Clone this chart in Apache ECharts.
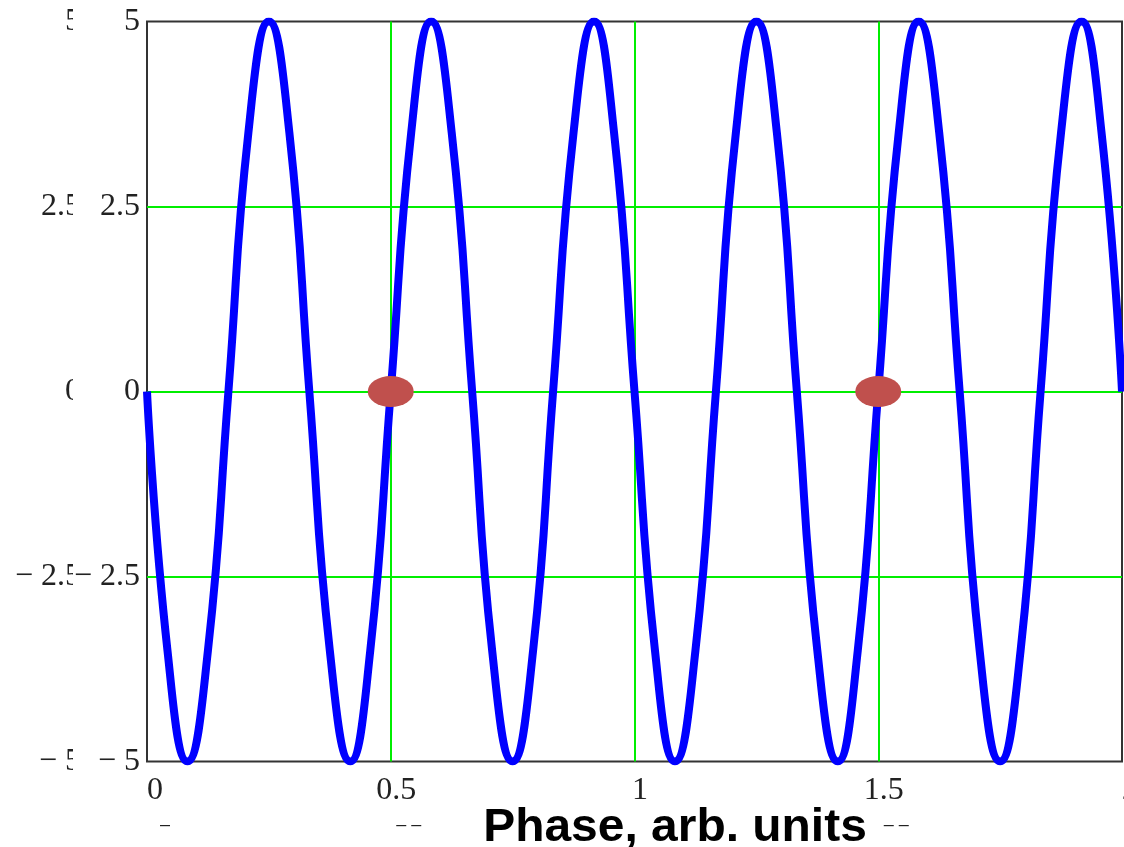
<!DOCTYPE html>
<html>
<head>
<meta charset="utf-8">
<script src="https://cdn.jsdelivr.net/npm/echarts@6/dist/echarts.min.js"></script>
<style>
html,body{margin:0;padding:0;background:#fff;}
#chart{width:1124px;height:847px;}
</style>
</head>
<body>
<div id="chart"></div>
<script>
// Phase samples (arb. units) and signal values
const phaseX = [0, 0.042, 0.083, 0.125, 0.167, 0.208, 0.25, 0.292, 0.333, 0.375, 0.417, 0.458,
  0.5, 0.542, 0.583, 0.625, 0.667, 0.708, 0.75, 0.792, 0.833, 0.875, 0.917, 0.958,
  1.0, 1.042, 1.083, 1.125, 1.167, 1.208, 1.25, 1.292, 1.333, 1.375, 1.417, 1.458,
  1.5, 1.542, 1.583, 1.625, 1.667, 1.708, 1.75, 1.792, 1.833, 1.875, 1.917, 1.958, 2.0];
const signalY = [0, -3.5, -5, -3.5, 0, 3.5, 5, 3.5, 0, -3.5, -5, -3.5,
  0, 3.5, 5, 3.5, 0, -3.5, -5, -3.5, 0, 3.5, 5, 3.5,
  0, -3.5, -5, -3.5, 0, 3.5, 5, 3.5, 0, -3.5, -5, -3.5,
  0, 3.5, 5, 3.5, 0, -3.5, -5, -3.5, 0, 3.5, 5, 3.5, 0];
// Highlighted points
const markX = [0.5, 1.5];
const markY = [0, 0];
// Axis ticks
const xTicks = [0, 0.5, 1, 1.5, 2];
const yTicks = [-5, -2.5, 0, 2.5, 5];
const xTitle = 'Phase, arb. units';

const fmtY = v => (v < 0 ? '\u2212 ' + String(-v) : String(v));
const dashLabels = {0: '\u2013', 0.5: '\u2013 \u2013', 1.5: '\u2013 \u2013'};

const chart = echarts.init(document.getElementById('chart'));
const serif = '"Liberation Serif", "Times New Roman", serif';

chart.setOption({
  animation: false,
  backgroundColor: '#fff',
  grid: {left: 147, right: 2, top: 21.5, bottom: 85.5, show: true, borderColor: '#333', borderWidth: 2,
    backgroundColor: 'transparent', containLabel: false, outerBoundsMode: 'none'},
  xAxis: [{
    type: 'value', min: xTicks[0], max: xTicks[xTicks.length - 1], interval: 0.5,
    axisLine: {show: false}, axisTick: {show: false},
    splitLine: {show: true, showMinLine: false, showMaxLine: false, lineStyle: {color: '#00ee00', width: 2}},
    axisLabel: {
      margin: 13, fontFamily: serif, fontSize: 32, color: '#222',
      formatter: v => (v === 0 || v === 2) ? '{l|' + v + '}' : '{c|' + v + '}',
      rich: {l: {fontFamily: serif, fontSize: 32, color: '#222'}, c: {fontFamily: serif, fontSize: 32, color: '#222', padding: [0, 0, 0, 11]}},
      alignMinLabel: 'left', alignMaxLabel: 'left', showMinLabel: true, showMaxLabel: true
    },
    z: 3
  }, {
    type: 'value', min: xTicks[0], max: xTicks[xTicks.length - 1], interval: 0.5,
    position: 'bottom', offset: 47,
    axisLine: {show: false}, axisTick: {show: false}, splitLine: {show: false},
    axisLabel: {
      fontSize: 18, color: '#222',
      formatter: v => dashLabels[v] || '',
      padding: [0, 0, 0, 36]
    }
  }],
  yAxis: [{
    type: 'value', min: -5, max: 5, interval: 2.5,
    axisLine: {show: false}, axisTick: {show: false},
    splitLine: {show: true, showMinLine: false, showMaxLine: false, lineStyle: {color: '#00ee00', width: 2}},
    axisLabel: {margin: 7, fontFamily: serif, fontSize: 32, color: '#222', formatter: fmtY, padding: [8, 0, 0, 0]},
    z: 3
  }, {
    type: 'value', min: -5, max: 5, interval: 2.5, position: 'left', offset: 59,
    axisLine: {show: false}, axisTick: {show: false}, splitLine: {show: false},
    axisLabel: {margin: 7, fontFamily: serif, fontSize: 32, color: '#222', formatter: fmtY, padding: [8, 0, 0, 0]},
    z: 1
  }],
  graphic: [{
    type: 'rect', left: 73, top: 0, z: 2,
    shape: {width: 25, height: 800},
    style: {fill: '#fff'}
  }, {
    type: 'text', x: 675, y: 828, z: 5, scaleX: 1.02,
    style: {text: xTitle, font: 'bold 47px "Liberation Sans", Arial, sans-serif', fill: '#000', align: 'center', verticalAlign: 'middle'}
  }],
  series: [{
    type: 'line', data: phaseX.map((x, i) => [x, signalY[i]]),
    xAxisIndex: 0, yAxisIndex: 0,
    smooth: 0.5, showSymbol: false, symbol: 'none',
    lineStyle: {color: '#0000ff', width: 8}, z: 10
  }, {
    type: 'scatter', data: markX.map((x, i) => [x, markY[i]]),
    xAxisIndex: 0, yAxisIndex: 0,
    symbol: 'circle', symbolSize: [46, 31],
    itemStyle: {color: '#c0504d', opacity: 1}, z: 11
  }]
});
</script>
</body>
</html>
